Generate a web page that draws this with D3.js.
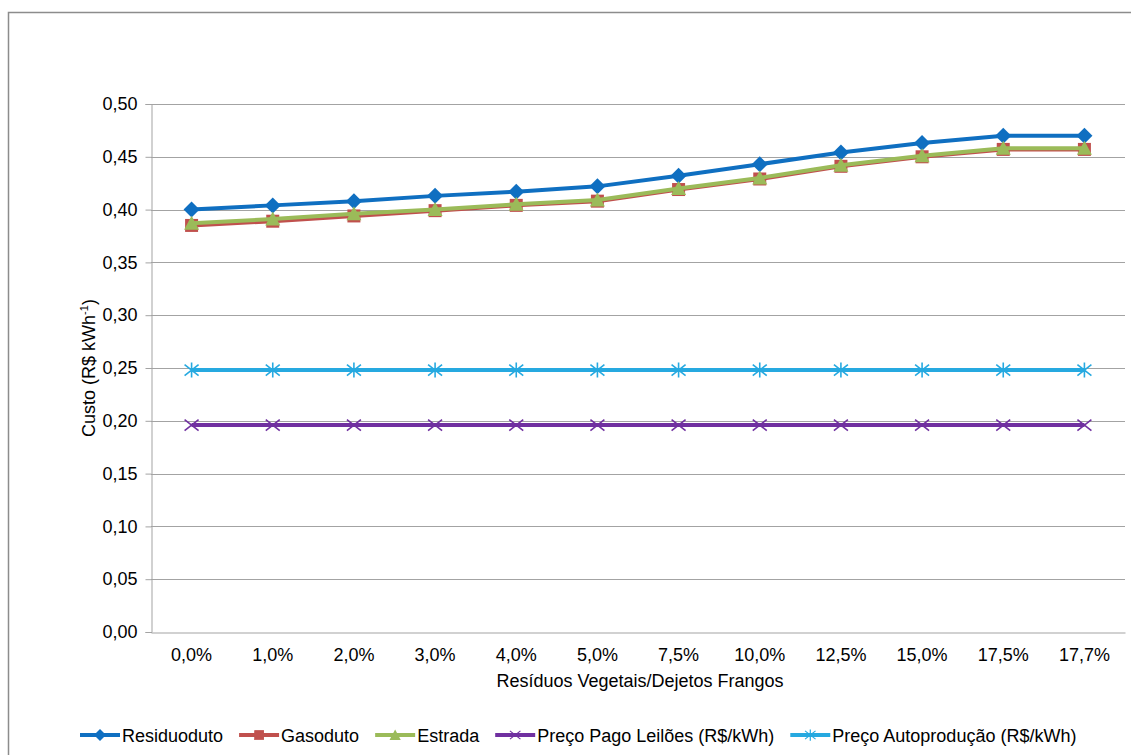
<!DOCTYPE html>
<html lang="pt">
<head>
<meta charset="utf-8">
<title>Custo x Resíduos Vegetais/Dejetos Frangos</title>
<script src="https://cdn.jsdelivr.net/npm/d3@7"></script>
<style>
  body { margin: 0; background: #fff; }
  text { font-family: "Liberation Sans", Arial, sans-serif; fill: #000; }
</style>
</head>
<body>
<script>
// categorias do eixo x
var categories = ["0,0%", "1,0%", "2,0%", "3,0%", "4,0%", "5,0%", "7,5%", "10,0%", "12,5%", "15,0%", "17,5%", "17,7%"];

// series (R$/kWh)
var residuoduto = [0.400, 0.404, 0.408, 0.413, 0.417, 0.422, 0.432, 0.443, 0.454, 0.463, 0.470, 0.470];
var gasoduto    = [0.385, 0.389, 0.394, 0.399, 0.404, 0.408, 0.419, 0.429, 0.441, 0.450, 0.457, 0.457];
var estrada     = [0.387, 0.391, 0.396, 0.400, 0.405, 0.409, 0.420, 0.430, 0.442, 0.451, 0.458, 0.458];
var leiloes     = [0.196, 0.196, 0.196, 0.196, 0.196, 0.196, 0.196, 0.196, 0.196, 0.196, 0.196, 0.196];
var autoproducao = [0.248, 0.248, 0.248, 0.248, 0.248, 0.248, 0.248, 0.248, 0.248, 0.248, 0.248, 0.248];

var yTicks = [0, 0.05, 0.10, 0.15, 0.20, 0.25, 0.30, 0.35, 0.40, 0.45, 0.50];

var w = 1131, h = 755;
var plotLeft = 151, plotRight = 1125, plotTop = 104, plotBottom = 632;
var fs = 18;

var series = [
  {name: "Residuoduto", values: residuoduto, color: "#0f6fc1", marker: "diamond"},
  {name: "Gasoduto", values: gasoduto, color: "#c0504d", marker: "square"},
  {name: "Estrada", values: estrada, color: "#9bbb59", marker: "triangle"},
  {name: "Preço Pago Leilões (R$/kWh)", values: leiloes, color: "#7030a0", marker: "x"},
  {name: "Preço Autoprodução (R$/kWh)", values: autoproducao, color: "#26a9e0", marker: "star"}
];

var svg = d3.select("body").append("svg")
  .attr("width", w)
  .attr("height", h);

// moldura do grafico
svg.append("rect")
  .attr("x", 8.5).attr("y", 12.5)
  .attr("width", w + 20).attr("height", h + 20)
  .attr("fill", "none")
  .attr("stroke", "#8c8c8c")
  .attr("stroke-width", 1.5);

var xScale = d3.scaleBand()
  .domain(categories)
  .range([plotLeft, plotRight]);

var yScale = d3.scaleLinear()
  .domain([0, 0.5])
  .range([plotBottom, plotTop]);

function cx(i) { return xScale(categories[i]) + xScale.bandwidth() / 2; }

// grid
svg.append("g")
  .selectAll("line")
  .data(yTicks.slice(1))
  .enter()
  .append("line")
  .attr("x1", plotLeft).attr("x2", plotRight)
  .attr("y1", function(d) { return Math.round(yScale(d)) + 0.5; })
  .attr("y2", function(d) { return Math.round(yScale(d)) + 0.5; })
  .attr("stroke", "#a3a3a3")
  .attr("stroke-width", 1);

// eixo y
var yAxis = d3.axisLeft(yScale)
  .tickValues(yTicks)
  .tickSize(6)
  .tickPadding(8)
  .tickFormat(function(d) { return d3.format(".2f")(d).replace(".", ","); });

var gy = svg.append("g")
  .attr("transform", "translate(" + (plotLeft + 0.5) + ",0)")
  .call(yAxis);
gy.select(".domain").attr("stroke", "#a3a3a3");
gy.selectAll(".tick line").attr("stroke", "#a3a3a3");
gy.selectAll(".tick text").attr("font-size", fs);

// eixo x
var xAxis = d3.axisBottom(xScale)
  .tickSize(0)
  .tickPadding(16);

var gx = svg.append("g")
  .attr("transform", "translate(0," + (plotBottom + 0.5) + ")")
  .call(xAxis);
gx.select(".domain").attr("stroke", "#a3a3a3");
gx.selectAll(".tick text").attr("font-size", fs);

// titulos dos eixos
svg.append("text")
  .attr("x", (plotLeft + plotRight) / 2 + 2)
  .attr("y", 687)
  .attr("text-anchor", "middle")
  .attr("font-size", fs)
  .text("Resíduos Vegetais/Dejetos Frangos");

var ylab = svg.append("text")
  .attr("transform", "translate(95," + ((plotTop + plotBottom) / 2) + ") rotate(-90)")
  .attr("text-anchor", "middle")
  .attr("font-size", fs);
ylab.append("tspan").text("Custo (R$ kWh");
ylab.append("tspan").attr("font-size", 11).attr("dy", -7).text("-1");
ylab.append("tspan").attr("dy", 7).text(")");

// marcadores
function markerPath(type) {
  if (type == "diamond") return "M0,-8L8,0L0,8L-8,0Z";
  if (type == "square") return "M-6.5,-6.5H6.5V6.5H-6.5Z";
  if (type == "triangle") return "M0,-7.5L7.5,6.5H-7.5Z";
  if (type == "x") return "M-7,-5.5L7,5.5M-7,5.5L7,-5.5";
  if (type == "star") return "M-7,-5.5L7,5.5M-7,5.5L7,-5.5M0,-7.5V7.5";
}

var line = d3.line()
  .x(function(d, i) { return cx(i); })
  .y(function(d) { return yScale(d); });

series.forEach(function(s) {
  svg.append("path")
    .datum(s.values)
    .attr("d", line)
    .attr("fill", "none")
    .attr("stroke", s.color)
    .attr("stroke-width", 4);

  var stroked = (s.marker == "x" || s.marker == "star");
  svg.append("g")
    .selectAll("path")
    .data(s.values)
    .enter()
    .append("path")
    .attr("transform", function(d, i) { return "translate(" + cx(i) + "," + yScale(d) + ")"; })
    .attr("d", markerPath(s.marker))
    .attr("fill", stroked ? "none" : s.color)
    .attr("stroke", stroked ? s.color : "none")
    .attr("stroke-width", 1.6);
});

// legenda
var legend = svg.append("g");
var lx = 80, ly = 735;
series.forEach(function(s) {
  var item = legend.append("g").attr("transform", "translate(" + lx + "," + ly + ")");
  item.append("line")
    .attr("x1", 0).attr("x2", 40)
    .attr("stroke", s.color)
    .attr("stroke-width", 4);
  var stroked = (s.marker == "x" || s.marker == "star");
  item.append("path")
    .attr("transform", "translate(20,0) scale(0.75)")
    .attr("d", markerPath(s.marker))
    .attr("fill", stroked ? "none" : s.color)
    .attr("stroke", stroked ? s.color : "none")
    .attr("stroke-width", 1.6);
  var t = item.append("text")
    .attr("x", 42)
    .attr("y", 6.5)
    .attr("font-size", fs)
    .text(s.name);
  lx += 42 + t.node().getComputedTextLength() + 16;
});
</script>
</body>
</html>
